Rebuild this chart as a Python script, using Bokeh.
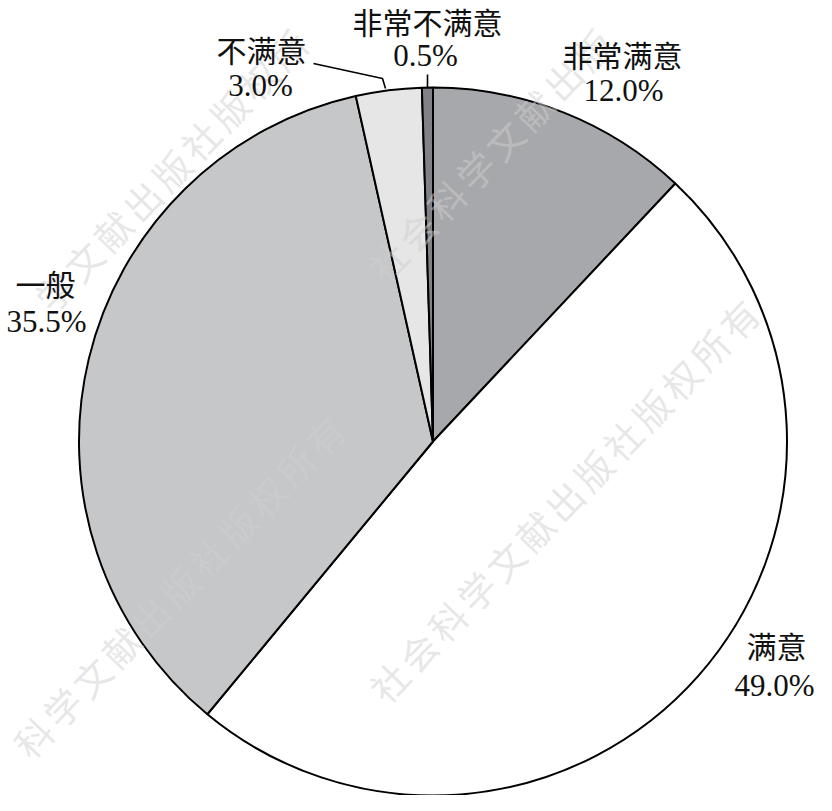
import math
from bokeh.plotting import figure
from bokeh.models import ColumnDataSource, Range1d
from bokeh.core.properties import value
from bokeh.embed import file_html
from bokeh.resources import INLINE

# ---- data ----
categories = ["非常满意", "满意", "一般", "不满意", "非常不满意"]
shares = [12.0, 49.0, 35.5, 3.0, 0.5]
slice_colors = ["#a7a8ab", "#ffffff", "#c6c7c9", "#e6e6e6", "#808285"]
pct_labels = [f"{v:.1f}%" for v in shares]
watermark = "社会科学文献出版社版权所有"

W, H = 816, 795
def X(xr):
    return xr - 8
def Y(yr):
    return 803 - yr

p = figure(width=W, height=H, x_range=Range1d(0, W), y_range=Range1d(0, H),
           output_backend="svg", toolbar_location=None, min_border=0,
           background_fill_color="white", border_fill_color="white")
p.axis.visible = False
p.grid.visible = False
p.outline_line_color = None

# ---- pie slices (clockwise from 12 o'clock) ----
total = sum(shares)
starts, ends = [], []
acc = 0.0
for v in shares:
    starts.append(math.radians(90 - acc / total * 360))
    acc += v
    ends.append(math.radians(90 - acc / total * 360))
src = ColumnDataSource(dict(start=starts, end=ends, color=slice_colors, cat=categories))
cx, cy, R = X(440.5), Y(449), 354
p.wedge(x=cx, y=cy, radius=R, start_angle="start", end_angle="end", direction="clock",
        fill_color="color", line_color="#000000", line_width=2, source=src)

# ---- watermark (drawn faintly over the pie), only characters fully on the canvas ----
ang = math.radians(46)
step = 42
wm_starts = [(-26, 389), (-18, 805), (396, 689), (395, 268)]
wx, wy, wt = [], [], []
m = 32
for (sx, sy) in wm_starts:
    for i, ch in enumerate(watermark):
        px = X(sx + i * step * math.cos(ang))
        py = Y(sy - i * step * math.sin(ang))
        if m <= px <= W - m and m <= py <= H - m:
            wx.append(px)
            wy.append(py)
            wt.append(ch)
p.text(x=wx, y=wy, text=wt, angle=ang, text_font=value("Noto Sans CJK SC"),
       text_font_size="37px", text_color="#cfcfcf", text_alpha=0.5,
       text_align="center", text_baseline="middle")

# ---- leader lines ----
p.line(x=[X(321), X(390), X(393)], y=[Y(71), Y(86), Y(96)], line_color="#000000", line_width=1.6)
p.line(x=[X(435), X(435)], y=[Y(82), Y(95)], line_color="#000000", line_width=1.6)

# ---- labels ----
name_pos = [(630, 61), (784, 652), (53, 290), (269, 56), (435, 28)]
pct_pos = [(631, 98), (782, 693), (54, 329), (268, 93), (433, 63)]
p.text(x=[X(a) for a, b in name_pos], y=[Y(b) for a, b in name_pos], text=categories,
       text_font=value("Noto Sans CJK SC"), text_font_size="30px", text_color="#111111",
       text_align="center", text_baseline="middle")
p.text(x=[X(a) for a, b in pct_pos], y=[Y(b) for a, b in pct_pos], text=pct_labels,
       text_font=value("Liberation Serif"), text_font_size="31px", text_color="#111111",
       text_align="center", text_baseline="middle")

open("out.html", "w").write(file_html(p, INLINE))
